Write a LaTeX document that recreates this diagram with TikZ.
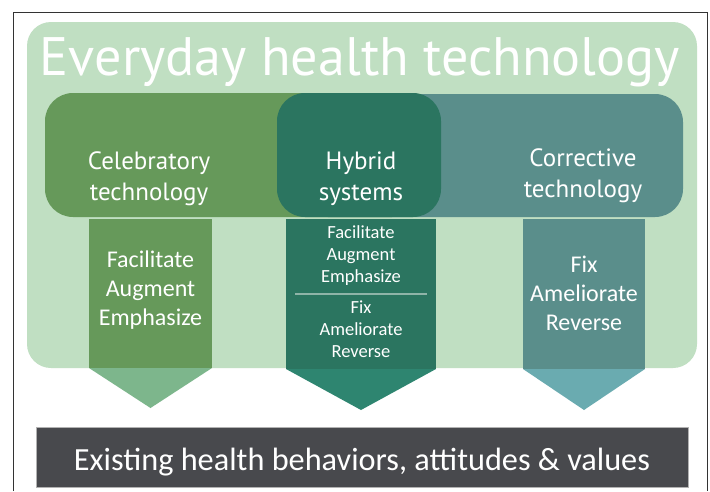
\documentclass[tikz,border=0pt]{standalone}
\usepackage{fontspec}
\setmainfont{PT Sans}
\newfontfamily\calfont{Carlito}
\usetikzlibrary{positioning}
\definecolor{bgl}{HTML}{C0DFC2}
\definecolor{celc}{HTML}{66995A}
\definecolor{hybc}{HTML}{2B7560}
\definecolor{corc}{HTML}{5A8E8B}
\definecolor{celt}{HTML}{7DB68C}
\definecolor{hybt}{HTML}{2E8570}
\definecolor{cort}{HTML}{6AABB0}
\definecolor{darkbar}{HTML}{48494D}
\definecolor{divc}{HTML}{8FB4A8}
\definecolor{framec}{HTML}{333333}
\tikzset{
  bar/.style={rounded corners=28pt},
  lbl/.style={text=white, align=center, font=\fontsize{25}{31}\selectfont, inner sep=0pt},
  arrtxt/.style={text=white, align=center, font=\calfont\fontsize{24}{29}\selectfont, inner sep=0pt},
  hybtxt/.style={text=white, align=center, font=\calfont\fontsize{18.5}{22}\selectfont, inner sep=0pt},
}
\begin{document}
\begin{tikzpicture}[x=1pt,y=-1pt]
\useasboundingbox (0,0) rectangle (710,491);
\fill[white] (0,0) rectangle (710,491);
% frame
\draw[framec, line width=1.2pt] (13.5,491) -- (13.5,12.5) -- (707.5,12.5) -- (707.5,491);
% background
\fill[bgl, rounded corners=24pt] (27,22) rectangle (697,368);
\node[text=white, inner sep=0pt, anchor=base] (title) at (360,75)
  {\resizebox{640pt}{!}{Everyday health technology}};
% bars
\fill[celc, bar] (45,93) rectangle (420,217);
\fill[corc, bar] (300,94) rectangle (683,217);
\fill[hybc, bar] (277,93) rectangle (441,217);
\node[lbl] (cel) at (149,179) {Celebratory\\technology};
\node[lbl] (hyb) at (361,179) {Hybrid\\systems};
\node[lbl] (cor) at (583,176) {Corrective\\technology};
% arrows
\fill[celt] (89,368) -- (212,368) -- (150.5,408) -- cycle;
\fill[celc] (89,219) rectangle (212,368);
\fill[hybt] (286,369) -- (436,369) -- (361,410) -- cycle;
\fill[hybc] (286,219) rectangle (436,369);
\fill[cort] (523,369) -- (645,369) -- (584,410) -- cycle;
\fill[corc] (523,219) rectangle (645,369);
\node[arrtxt] (celtx) at (150.5,290) {Facilitate\\Augment\\Emphasize};
\node[hybtxt] (hybtop) at (361,256) {Facilitate\\Augment\\Emphasize};
\coordinate (dl) at (295,294);
\coordinate (dr) at (427,294);
\draw[divc, line width=1.2pt] (dl) -- (dr);
\node[hybtxt] (hybbot) at (361,329) {Fix\\Ameliorate\\Reverse};
\node[arrtxt] (cortx) at (584,293) {Fix\\Ameliorate\\Reverse};
% bottom bar
\fill[darkbar] (36,427) rectangle (688,487);
\draw[gray!60, line width=0.6pt] (36,427) rectangle (688,487);
\node[text=white, inner sep=0pt, anchor=base] (base) at (362,470)
  {\calfont\resizebox{576pt}{!}{Existing health behaviors, attitudes \& values}};
\end{tikzpicture}
\end{document}
